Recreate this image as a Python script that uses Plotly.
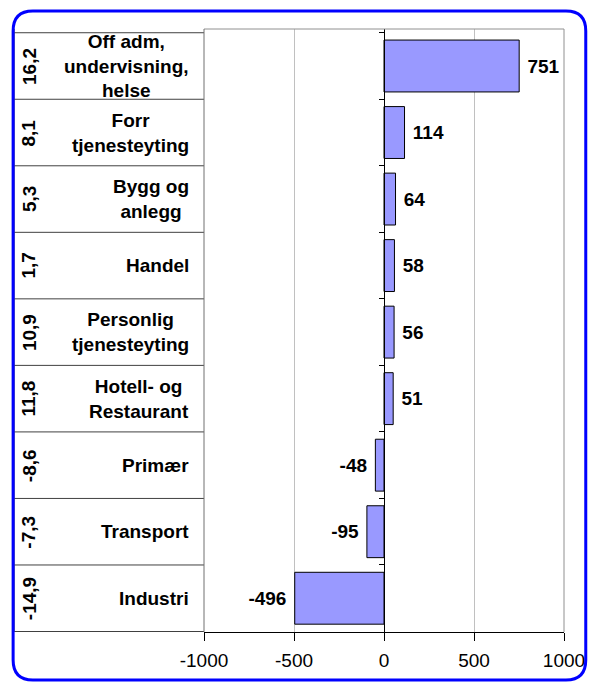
import plotly.graph_objects as go

categories = ["Off adm,<br>undervisning,<br>helse", "Forr<br>tjenesteyting", "Bygg og<br>anlegg",
              "Handel", "Personlig<br>tjenesteyting", "Hotell- og<br>Restaurant",
              "Primær", "Transport", "Industri"]
values = [751, 114, 64, 58, 56, 51, -48, -95, -496]
shares = ["16,2", "8,1", "5,3", "1,7", "10,9", "11,8", "-8,6", "-7,3", "-14,9"]
x_ticks = [-1000, -500, 0, 500, 1000]
x_tick_text = ["-1000", "-500", "0", "500", "1000"]

# page offset of 8px (body margin) is taken off all pixel positions below
W, H = 589, 680
L, R, T, B = 196, 560, 21, 624
FONT = "Arial, Liberation Sans, sans-serif"
FS = 19


def px(x):
    return (x - L) / (R - L)


def py(y):
    return (B - y) / (B - T)


NB = "\u00a0"
labels = [(NB + str(v)) if v >= 0 else (str(v) + NB) for v in values]

fig = go.Figure(go.Bar(
    x=values, y=categories, orientation="h",
    marker=dict(color="#9999FF", line=dict(color="black", width=1)),
    text=labels, textposition="outside",
    textfont=dict(family=FONT, size=FS, color="black", weight="bold"),
    cliponaxis=False,
))

shapes = []
n = len(categories)
# table horizontal lines
for i in range(n + 1):
    shapes.append(dict(type="line", xref="paper", yref="y", x0=px(4), x1=0,
                       y0=i - 0.5, y1=i - 0.5, line=dict(color="#404040", width=1)))
# plot area borders
shapes.append(dict(type="line", xref="paper", yref="paper", x0=0, x1=1, y0=1, y1=1,
                   line=dict(color="#909090", width=1)))
shapes.append(dict(type="line", xref="paper", yref="paper", x0=1, x1=1, y0=0, y1=1,
                   line=dict(color="#909090", width=1)))
shapes.append(dict(type="line", xref="paper", yref="paper", x0=0, x1=0, y0=0, y1=1,
                   line=dict(color="#707070", width=1)))
shapes.append(dict(type="line", xref="paper", yref="paper", x0=px(4), x1=px(4), y0=0, y1=1,
                   line=dict(color="#404040", width=1)))

# rounded outer border (pixel coords converted to paper)
x0b, y0b, x1b, y1b, r = 3, 3, 582, 672, 20
pts = [
    ("M", [(x0b, y0b + r)]),
    ("Q", [(x0b, y0b), (x0b + r, y0b)]),
    ("L", [(x1b - r, y0b)]),
    ("Q", [(x1b, y0b), (x1b, y0b + r)]),
    ("L", [(x1b, y1b - r)]),
    ("Q", [(x1b, y1b), (x1b - r, y1b)]),
    ("L", [(x0b + r, y1b)]),
    ("Q", [(x0b, y1b), (x0b, y1b - r)]),
]
path = ""
for cmd, ps in pts:
    path += cmd + " ".join(f"{px(a):.5f},{py(b):.5f}" for a, b in ps) + " "
path += "Z"
shapes.append(dict(type="path", xref="paper", yref="paper", path=path,
                   line=dict(color="#0000FF", width=3)))

annotations = []
for cat, s in zip(categories, shares):
    annotations.append(dict(xref="paper", yref="y", x=px(19), y=cat, text=s, showarrow=False,
                            textangle=-90, xanchor="center", yanchor="middle",
                            font=dict(family=FONT, size=FS, color="black", weight="bold")))
    annotations.append(dict(xref="paper", yref="y", x=px(183), y=cat, text=cat, showarrow=False,
                            xanchor="right", yanchor="middle", align="center",
                            font=dict(family=FONT, size=FS, color="black", weight="bold")))

fig.update_layout(
    width=W, height=H,
    margin=dict(l=L, r=W - R, t=T, b=H - B),
    paper_bgcolor="white", plot_bgcolor="white",
    showlegend=False, bargap=0.22,
    shapes=shapes, annotations=annotations,
    font=dict(family=FONT, size=FS, color="black"),
    xaxis=dict(range=[-1000, 1000], tickvals=x_ticks, ticktext=x_tick_text,
               ticks="outside", ticklen=8,
               tickcolor="black", showline=True, linecolor="black", linewidth=1,
               showgrid=True, gridcolor="#c0c0c0", zeroline=False,
               tickfont=dict(family=FONT, size=FS, color="black"), ticklabelstandoff=3),
    yaxis=dict(type="category", categoryorder="array", categoryarray=categories,
               autorange="reversed", showticklabels=False, ticks="outside", ticklen=5,
               tickson="boundaries", tickcolor="black", showline=True, linecolor="black",
               showgrid=False, zeroline=False, anchor="free", position=0.5),
)

fig.write_html("out.html")
